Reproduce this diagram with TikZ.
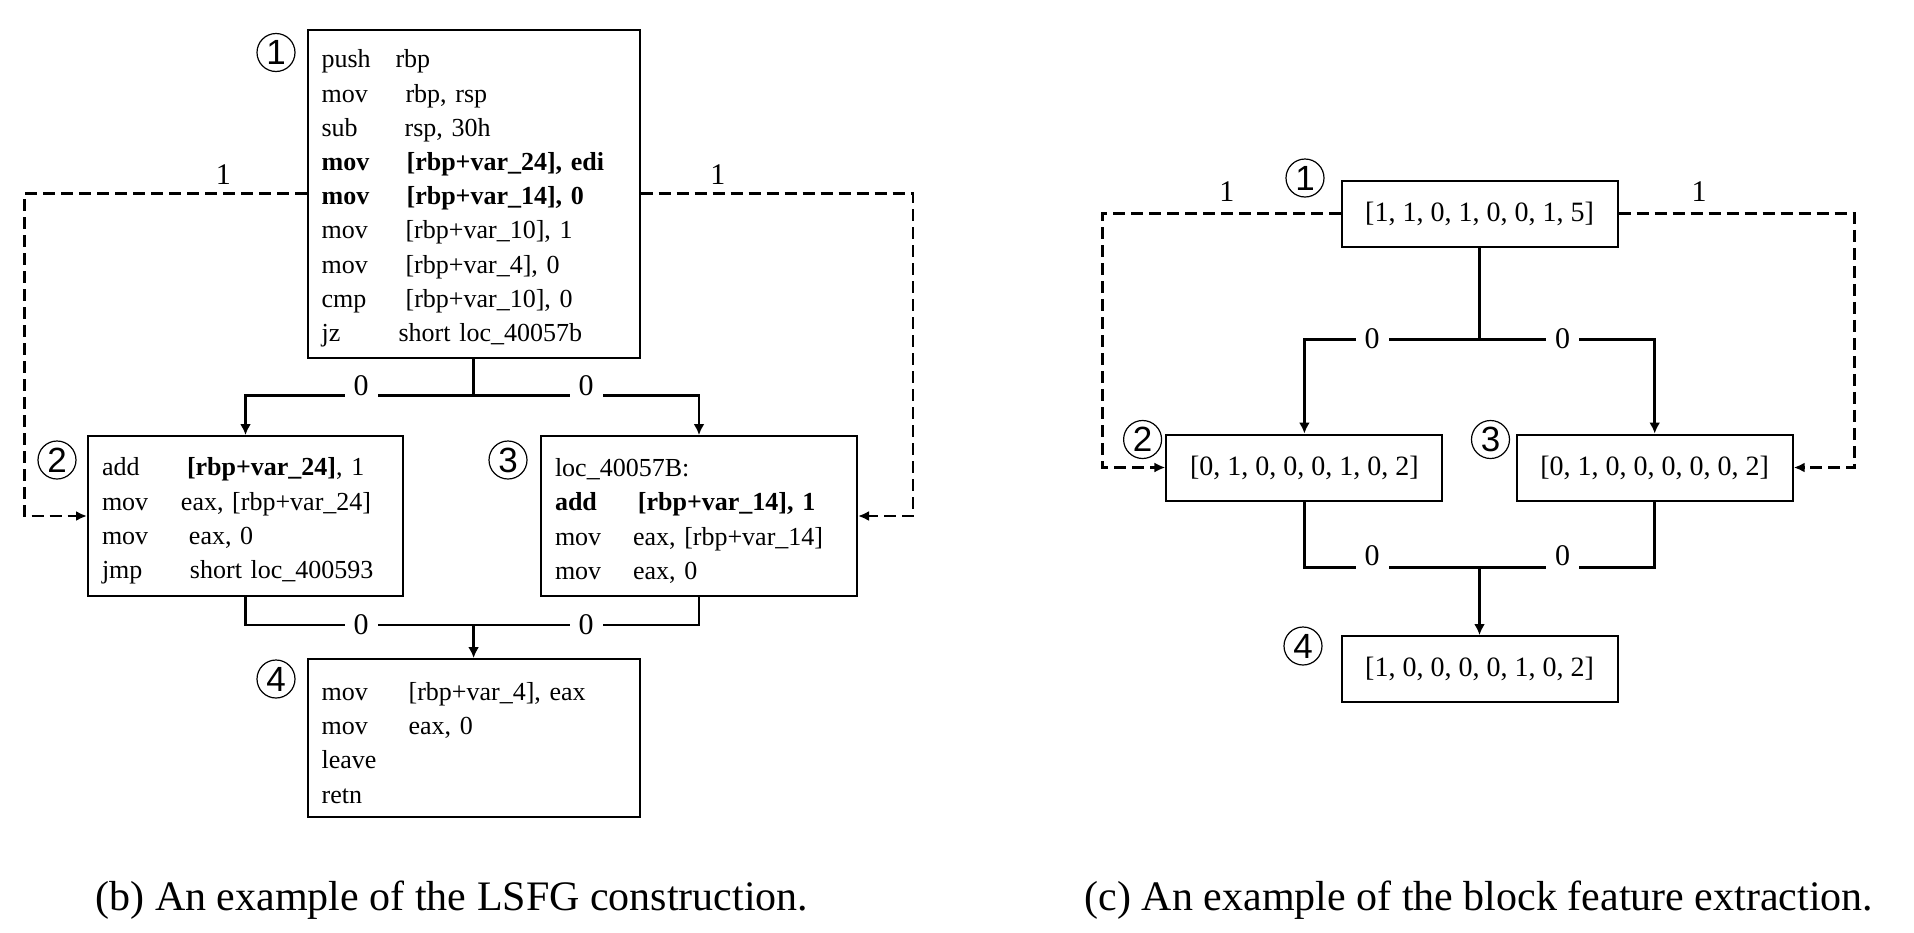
\documentclass[tikz,border=0pt]{standalone}
\usepackage{fontspec}
\newfontfamily\tnr{Liberation Serif}
\newfontfamily\arial{Liberation Sans}
\usetikzlibrary{arrows.meta}
\usetikzlibrary{calc}

% mnemonic + operand, operand column at #1
\newcommand{\ins}[3][84pt]{\makebox[#1][l]{#2}#3}

\begin{document}
\begin{tikzpicture}[x=1pt, y=-1pt,
  blk/.style={draw, line width=2pt, align=left, inner xsep=14pt, inner ysep=0pt, font=\tnr\fontsize{26}{34.2}\selectfont,
    execute at begin node={\rule{0pt}{28pt}}},
  vec/.style={draw, line width=2pt, minimum width=276pt, minimum height=66pt, inner sep=0pt, font=\tnr\fontsize{28}{30}\selectfont},
  num/.style={circle, draw, line width=1.2pt, minimum size=38pt, inner sep=0pt, font=\arial\fontsize{35}{35}\selectfont},
  lbl/.style={font=\tnr\fontsize{30}{30}\selectfont, inner sep=0pt},
  cut/.style={lbl, fill=white, inner xsep=9pt, inner ysep=4pt},
  flow/.style={line width=2.8pt, -{Latex[length=11pt,width=11pt]}},
  jump/.style={line width=2.7pt, dash pattern=on 12pt off 6pt, -{Latex[length=11pt,width=10pt]}},
  captext/.style={font=\tnr\fontsize{42}{42}\selectfont}]
\useasboundingbox (0,0) rectangle (1914,932);

%% (b) LSFG
\node[blk, text width=304pt, minimum height=328pt] (b1) at (473.6,193.5) {
 \ins[74pt]{push}{rbp}\\
 \ins{mov}{rbp, rsp}\\
 \ins[83pt]{sub}{rsp, 30h}\\
 \textbf{\ins[85pt]{mov}{[rbp+var\_24], edi}}\\
 \textbf{\ins[85pt]{mov}{[rbp+var\_14], 0}}\\
 \ins{mov}{[rbp+var\_10], 1}\\
 \ins{mov}{[rbp+var\_4], 0}\\
 \ins{cmp}{[rbp+var\_10], 0}\\
 \ins[77pt]{jz}{short loc\_40057b}};
\node[blk, text width=287pt, minimum height=160pt] (b2) at (245.5,516) {
 \ins[85pt]{add}{\textbf{[rbp+var\_24]}, 1}\\
 \ins[79pt]{mov}{eax, [rbp+var\_24]}\\
 \ins[87pt]{mov}{eax, 0}\\
 \ins[88pt]{jmp}{short loc\_400593}};
\node[blk, text width=288pt, minimum height=160pt] (b3) at (699,516) {
 loc\_40057B:\\
 \textbf{\ins[83pt]{add}{[rbp+var\_14], 1}}\\
 \ins[78pt]{mov}{eax, [rbp+var\_14]}\\
 \ins[78pt]{mov}{eax, 0}};
\node[blk, text width=304pt, minimum height=158pt] (b4) at (473.6,738) {
 \ins[87pt]{mov}{[rbp+var\_4], eax}\\
 \ins[87pt]{mov}{eax, 0}\\
 leave\\
 retn};

\node[num] (n1) at (276,52.5) {1};
\node[num] (n2) at (57,460) {2};
\node[num] (n3) at (508,460) {3};
\node[num] (n4) at (276,679) {4};

\coordinate (lx) at (24.4,0);
\coordinate (rx) at (913,0);
\coordinate (split) at (473.6,395.5);
\coordinate (merge) at (473.6,625);

\draw[jump] (b1.west) -- (b1.west -| lx) |- (b2.west);
\draw[jump] (b1.east) -- (b1.east -| rx) |- (b3.east);
\draw[flow] (b1.south) -- (split) -| (b2.north);
\draw[flow] (split) -| (b3.north);
\draw[flow, -] (b2.south) |- (merge);
\draw[flow, -] (b3.south) |- (merge);
\draw[flow] (merge) -- (b4.north);

\node[lbl] (e12) at (223.4,174.6) {1};
\node[lbl] (e13) at (717.8,174.6) {1};
\node[cut] (f12) at (361,386) {0};
\node[cut] (f13) at (586,386) {0};
\node[cut] (f24) at (361,625) {0};
\node[cut] (f34) at (586,625) {0};

%% (c) block features
\node[vec] (v1) at (1479.5,213.6) {[1, 1, 0, 1, 0, 0, 1, 5]};
\node[vec] (v2) at (1304.4,467.5) {[0, 1, 0, 0, 0, 1, 0, 2]};
\node[vec] (v3) at (1654.7,467.5) {[0, 1, 0, 0, 0, 0, 0, 2]};
\node[vec] (v4) at (1479.5,669) {[1, 0, 0, 0, 0, 1, 0, 2]};

\node[num] (m1) at (1305,178) {1};
\node[num] (m2) at (1142.6,439.5) {2};
\node[num] (m3) at (1490.5,439.5) {3};
\node[num] (m4) at (1303,646) {4};

\coordinate (vlx) at (1102.3,0);
\coordinate (vrx) at (1854.3,0);
\coordinate (vsplit) at (1479.5,339.4);
\coordinate (vmerge) at (1479.5,567.6);

\draw[jump] (v1.west) -- (v1.west -| vlx) |- (v2.west);
\draw[jump] (v1.east) -- (v1.east -| vrx) |- (v3.east);
\draw[flow] (v1.south) -- (vsplit) -| (v2.north);
\draw[flow] (vsplit) -| (v3.north);
\draw[flow, -] (v2.south) |- (vmerge);
\draw[flow, -] (v3.south) |- (vmerge);
\draw[flow] (vmerge) -- (v4.north);

\node[lbl] (g12) at (1226.8,191.6) {1};
\node[lbl] (g13) at (1699,191.6) {1};
\node[cut] (h12) at (1372,339) {0};
\node[cut] (h13) at (1562.5,339) {0};
\node[cut] (h24) at (1372,556) {0};
\node[cut] (h34) at (1562.5,556) {0};

%% captions
\node[captext] (capb) at (452,900) {(b) An example of the LSFG construction.};
\node[captext] (capc) at (1479,900) {(c) An example of the block feature extraction.};
\end{tikzpicture}
\end{document}
